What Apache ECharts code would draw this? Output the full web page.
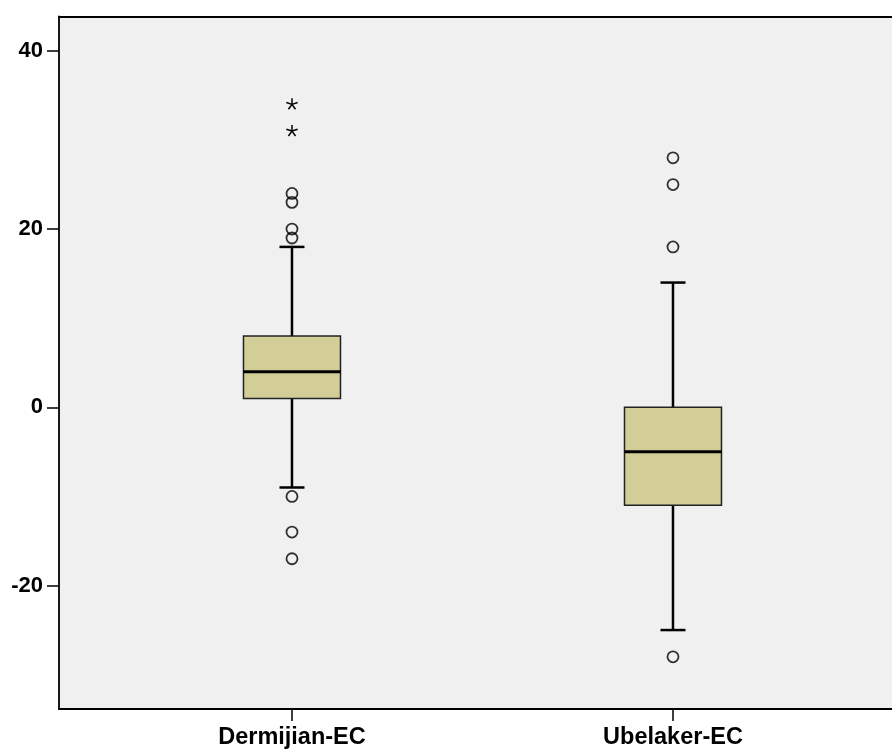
<!DOCTYPE html>
<html>
<head>
<meta charset="utf-8">
<script src="https://cdn.jsdelivr.net/npm/echarts@6/dist/echarts.min.js"></script>
<style>
html,body{margin:0;padding:0;background:#fff;}
#c{width:892px;height:749px;}
</style>
</head>
<body>
<div id="c"></div>
<script>
const categories = ['Dermijian-EC', 'Ubelaker-EC'];
const whiskerLow = [-9, -25];
const q1 = [1, -11];
const medians = [4, -5];
const q3 = [8, 0];
const whiskerHigh = [18, 14];
const outliersDermijian = [24, 23, 20, 19, -10, -14, -17];
const extremesDermijian = [34, 31];
const outliersUbelaker = [28, 25, 18, -28];
const extremesUbelaker = [];
const yTicks = [-20, 0, 20, 40];

const boxData = categories.map((c, i) => [i + 1, whiskerLow[i], q1[i], medians[i], q3[i], whiskerHigh[i]]);
const outlierData = []
  .concat(outliersDermijian.map(v => [1, v]))
  .concat(outliersUbelaker.map(v => [2, v]));
const extremeData = []
  .concat(extremesDermijian.map(v => [1, v]))
  .concat(extremesUbelaker.map(v => [2, v]));

const BOX_W = 97, CAP_W = 25;
const FONT = 'Liberation Sans, Arial, sans-serif';

const chart = echarts.init(document.getElementById('c'), null, {renderer: 'canvas'});
chart.setOption({
  animation: false,
  backgroundColor: '#ffffff',
  grid: {
    left: 59, top: 16.5, right: 0, bottom: 40,
    containLabel: false, outerBoundsMode: 'none',
    show: true, backgroundColor: '#F0F0F0', borderWidth: 0
  },
  xAxis: [{
    type: 'value', position: 'bottom', min: 0.3885, max: 0.3885 + 833 / 381,
    splitLine: {show: false},
    axisLine: {show: true, onZero: false, lineStyle: {color: '#000', width: 1.8}},
    axisTick: {show: true, length: 12, inside: false, customValues: [1, 2], lineStyle: {color: '#000', width: 1.5}},
    axisLabel: {
      customValues: [1, 2], margin: 17,
      formatter: v => categories[Math.round(v) - 1] || '',
      color: '#000', fontFamily: FONT, fontWeight: 'bold', fontSize: 23.5
    }
  }, {
    type: 'value', position: 'top', min: 0.3885, max: 0.3885 + 833 / 381,
    splitLine: {show: false},
    axisLine: {show: true, onZero: false, lineStyle: {color: '#000', width: 1.8}},
    axisTick: {show: false},
    axisLabel: {show: false}
  }],
  yAxis: {
    type: 'value', min: -33.86, max: 43.86,
    splitLine: {show: false},
    axisLine: {show: true, onZero: false, lineStyle: {color: '#000', width: 1.8}},
    axisTick: {show: true, length: 12, customValues: yTicks, lineStyle: {color: '#000', width: 1.5}},
    axisLabel: {
      customValues: yTicks, margin: 16, padding: [8, 0, 0, 0],
      color: '#000', fontFamily: FONT, fontWeight: 'bold', fontSize: 22
    }
  },
  series: [
    {
      type: 'custom',
      data: boxData,
      renderItem: function (params, api) {
        const x = api.value(0);
        const pLow = api.coord([x, api.value(1)]);
        const pQ1 = api.coord([x, api.value(2)]);
        const pMed = api.coord([x, api.value(3)]);
        const pQ3 = api.coord([x, api.value(4)]);
        const pHigh = api.coord([x, api.value(5)]);
        const cx = pMed[0];
        const lineStyle = {stroke: '#000', lineWidth: 2.5};
        return {
          type: 'group',
          children: [
            {type: 'line', shape: {x1: cx, y1: pQ3[1], x2: cx, y2: pHigh[1]}, style: lineStyle},
            {type: 'line', shape: {x1: cx, y1: pQ1[1], x2: cx, y2: pLow[1]}, style: lineStyle},
            {type: 'line', shape: {x1: cx - CAP_W / 2, y1: pHigh[1], x2: cx + CAP_W / 2, y2: pHigh[1]}, style: lineStyle},
            {type: 'line', shape: {x1: cx - CAP_W / 2, y1: pLow[1], x2: cx + CAP_W / 2, y2: pLow[1]}, style: lineStyle},
            {type: 'rect', shape: {x: cx - BOX_W / 2, y: pQ3[1], width: BOX_W, height: pQ1[1] - pQ3[1]},
              style: {fill: '#D3CE97', stroke: '#222', lineWidth: 1.5}},
            {type: 'line', shape: {x1: cx - BOX_W / 2, y1: pMed[1], x2: cx + BOX_W / 2, y2: pMed[1]},
              style: {stroke: '#000', lineWidth: 3}}
          ]
        };
      },
      z: 2
    },
    {
      type: 'scatter',
      data: outlierData,
      symbol: 'circle',
      symbolSize: 11,
      itemStyle: {color: 'rgba(0,0,0,0)', borderColor: '#000', borderWidth: 1.8},
      z: 3
    },
    {
      type: 'custom',
      data: extremeData,
      renderItem: function (params, api) {
        const p = api.coord([api.value(0), api.value(1)]);
        const r = 6;
        const children = [];
        for (let k = 0; k < 5; k++) {
          const a = -Math.PI / 2 + k * 2 * Math.PI / 5;
          children.push({type: 'line', shape: {x1: p[0], y1: p[1], x2: p[0] + r * Math.cos(a), y2: p[1] + r * Math.sin(a)},
            style: {stroke: '#000', lineWidth: 1.5}});
        }
        return {type: 'group', children: children};
      },
      z: 3
    }
  ]
});
</script>
</body>
</html>
